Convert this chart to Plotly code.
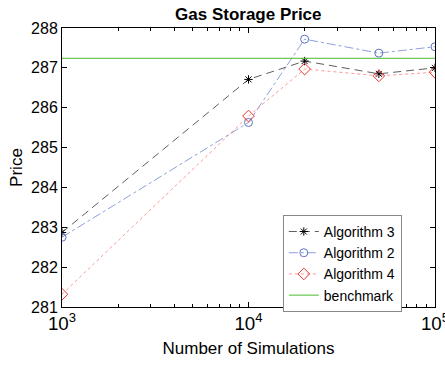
import plotly.graph_objects as go

sims = [1000, 10000, 20000, 50000, 100000]
alg3 = [282.87, 286.71, 287.17, 286.85, 287.0]
alg2 = [282.75, 285.63, 287.72, 287.37, 287.53]
alg4 = [281.32, 285.79, 286.97, 286.80, 286.89]
benchmark = 287.24
yticks = [281, 282, 283, 284, 285, 286, 287, 288]

FONT = "Liberation Sans, Arial, sans-serif"

fig = go.Figure()
fig.add_trace(go.Scatter(x=sims, y=alg3, name="Algorithm 3", mode="lines+markers",
                         line=dict(color="#333333", width=0.8, dash="8px,5px"),
                         marker=dict(symbol="asterisk-open", size=7, color="#000000",
                                     line=dict(color="#000000", width=1))))
fig.add_trace(go.Scatter(x=sims, y=alg2, name="Algorithm 2", mode="lines+markers",
                         line=dict(color="#6f86cf", width=0.8, dash="dashdot"),
                         marker=dict(symbol="circle-open", size=8, color="#5a74c8",
                                     line=dict(color="#5a74c8", width=1))))
fig.add_trace(go.Scatter(x=sims, y=alg4, name="Algorithm 4", mode="lines+markers",
                         line=dict(color="#ff7b7b", width=0.8, dash="dot"),
                         marker=dict(symbol="diamond-open", size=9, color="#ee3333",
                                     line=dict(color="#ee3333", width=1))))
fig.add_trace(go.Scatter(x=[sims[0], sims[-1]], y=[benchmark, benchmark], name="benchmark",
                         mode="lines", line=dict(color="#4cbb2a", width=1)))

fig.update_layout(
    width=445, height=365,
    margin=dict(l=62, r=10, t=28, b=58, autoexpand=False),
    paper_bgcolor="white", plot_bgcolor="white",
    font=dict(family=FONT, size=14, color="#000000"),
    title=dict(text="<b>Gas Storage Price</b>", x=0.558, xanchor="center",
               y=0.962, yanchor="middle", font=dict(size=17, family=FONT)),
    showlegend=True,
    legend=dict(x=0.592, xanchor="left", y=0.33, yanchor="top",
                bgcolor="white", bordercolor="#888888", borderwidth=1,
                font=dict(size=14, family=FONT), tracegroupgap=0,
                itemwidth=30),
)
fig.update_xaxes(type="log", range=[3, 5], tickmode="linear", tick0=0, dtick=1,
                 exponentformat="power", showexponent="all",
                 ticklabeloverflow="allow", automargin=False,
                 ticks="inside", ticklen=5, tickcolor="#000", mirror="ticks",
                 showline=True, linecolor="#000", linewidth=1, showgrid=False,
                 zeroline=False,
                 minor=dict(ticks="inside", ticklen=3, tickcolor="#000", showgrid=False,
                            dtick="D1"),
                 title=dict(text="Number of Simulations", font=dict(size=17, family=FONT), standoff=9),
                 tickfont=dict(size=15, family=FONT))
fig.update_yaxes(range=[281, 288], tickvals=yticks, automargin=False,
                 ticks="inside", ticklen=5, tickcolor="#000", mirror="ticks",
                 showline=True, linecolor="#000", linewidth=1, showgrid=False,
                 zeroline=False,
                 title=dict(text="Price", font=dict(size=17, family=FONT), standoff=4),
                 tickfont=dict(size=16, family=FONT))

fig.write_html("out.html")
